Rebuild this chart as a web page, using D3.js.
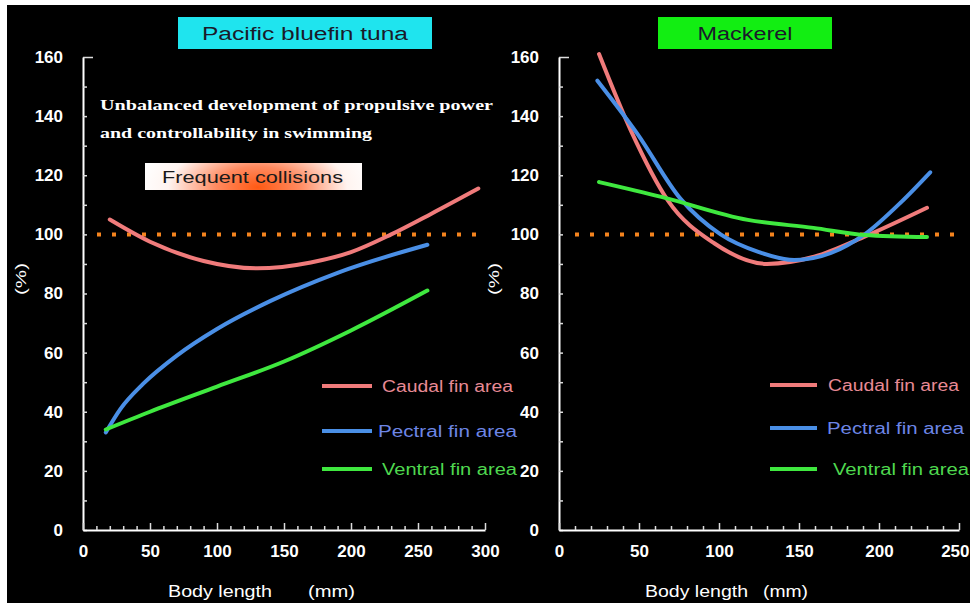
<!DOCTYPE html>
<html><head><meta charset="utf-8">
<script src="https://cdn.jsdelivr.net/npm/d3@7"></script>
<style>body{margin:0;background:#fff}svg{display:block}</style>
</head><body><svg id="c" width="970" height="603"></svg>
<script>
// ---- data ----
const panelTitles = ["Pacific bluefin tuna", "Mackerel"];
const seriesNames = ["Caudal fin area", "Pectral fin area", "Ventral fin area"];
const yTicks = [0, 20, 40, 60, 80, 100, 120, 140, 160];
const tunaXTicks = [0, 50, 100, 150, 200, 250, 300];
const mackXTicks = [0, 50, 100, 150, 200, 250];

const tunaCaudalX = [20, 50, 90, 130, 170, 200, 230, 260, 295];
const tunaCaudalY = [105, 97.5, 91, 88.5, 90.5, 94, 100, 107, 115.5];
const tunaPectralX = [17, 28, 45, 70, 100, 140, 190, 257];
const tunaPectralY = [33, 41, 49.5, 59, 68, 77.5, 87, 96.5];
const tunaVentralX = [17, 50, 100, 150, 200, 257];
const tunaVentralY = [34, 40, 48.5, 57, 67.5, 81];

const mackCaudalX = [25, 45, 68, 97, 130, 160, 190, 230];
const mackCaudalY = [161, 135, 111.5, 97, 90, 92.5, 99, 109];
const mackPectralX = [24, 49, 76, 101, 125, 147, 170, 191, 214, 232];
const mackPectralY = [152, 134, 112, 100, 94, 91.3, 93.7, 100, 111, 121];
const mackVentralX = [25, 64, 118, 159, 191, 230];
const mackVentralY = [117.7, 112.7, 104.9, 102.2, 99.8, 99.1];

const referenceLevel = 100;

// ---- drawing ----
const svg = d3.select("#c");
svg.append("rect").attr("x", 0).attr("y", 0).attr("width", 970).attr("height", 603).attr("fill", "#fff");
svg.append("rect").attr("x", 7).attr("y", 5).attr("width", 963).attr("height", 598).attr("fill", "#000");

const lineColors = ["#f07b7b", "#4a8fe6", "#3fe83f"];
const textColors = ["#e88a95", "#6d86e6", "#4fd84f"];
const fontSans = "'Liberation Sans', Arial, sans-serif";

const y = d3.scaleLinear().domain([0, 160]).range([530, 57]);

const panels = [
  {x0: 83, x1: 485, dom: [0, 300], ticks: tunaXTicks,
   series: [[tunaCaudalX, tunaCaudalY], [tunaPectralX, tunaPectralY], [tunaVentralX, tunaVentralY]],
   title: panelTitles[0], titleBox: [178, 17, 254, 32], titleFill: "#1fe4ee", titleLen: 206,
   dots: [97, 487], legendLine: [322, 372], legendText: [382, 378, 382], legendLen: [131, 139, 135], legendY: [386, 431, 469], ylab: 21,
   xt: [[168, "Body length", 104], [308, "(mm)", 47]]},
  {x0: 559, x1: 959, dom: [0, 250], ticks: mackXTicks,
   series: [[mackCaudalX, mackCaudalY], [mackPectralX, mackPectralY], [mackVentralX, mackVentralY]],
   title: panelTitles[1], titleBox: [658, 17, 174, 32], titleFill: "#12ee12", titleLen: 95,
   dots: [575, 963], legendLine: [770, 817], legendText: [828, 827, 833], legendLen: [131, 137, 136], legendY: [385, 428, 469], ylab: 494,
   xt: [[645, "Body length", 103], [763, "(mm)", 45]]}
];

const defs = svg.append("defs");
const rg = defs.append("radialGradient").attr("id", "fc").attr("cx", "0.52").attr("cy", "0.6").attr("r", "0.55")
  .attr("gradientTransform", "translate(0.5,0.5) scale(1,4) translate(-0.5,-0.5)");
rg.append("stop").attr("offset", "0").attr("stop-color", "#ff5a14");
rg.append("stop").attr("offset", "0.35").attr("stop-color", "#ff8a60");
rg.append("stop").attr("offset", "0.75").attr("stop-color", "#fff4f0");
rg.append("stop").attr("offset", "1").attr("stop-color", "#ffffff");

panels.forEach(p => {
  const x = d3.scaleLinear().domain(p.dom).range([p.x0, p.x1]);
  const g = svg.append("g");

  // y axis
  const yAxis = d3.axisLeft(y).tickValues(d3.range(0, 161, 10)).tickSizeInner(-4).tickSizeOuter(0).tickPadding(20)
    .tickFormat(d => yTicks.includes(d) ? d : "");
  const ya = g.append("g").attr("transform", `translate(${p.x0},0)`).call(yAxis);
  ya.select(".domain").attr("stroke", "#fff").attr("stroke-width", 2);
  ya.selectAll(".tick line").attr("stroke", "#ddd").attr("stroke-width", 1.5);
  ya.selectAll(".tick text").attr("fill", "#fff").attr("font-family", fontSans).attr("font-weight", "bold").attr("font-size", 17);
  ya.selectAll(".tick").filter(d => d === 160).select("line").attr("x2", 10);

  // x axis
  const xAxis = d3.axisBottom(x).tickValues(d3.range(p.dom[0], p.dom[1] + 1, 10)).tickSizeInner(-4).tickSizeOuter(0).tickPadding(15)
    .tickFormat(d => p.ticks.includes(d) ? d : "");
  const xa = g.append("g").attr("transform", `translate(0,530)`).call(xAxis);
  xa.select(".domain").attr("stroke", "#fff").attr("stroke-width", 2);
  xa.selectAll(".tick line").attr("stroke", "#ddd").attr("stroke-width", 1.5);
  xa.selectAll(".tick").filter(d => d % 50 === 0).select("line").attr("y2", -7);
  xa.selectAll(".tick text").attr("fill", "#fff").attr("font-family", fontSans).attr("font-weight", "bold").attr("font-size", 17);
  // keep the last label inside the picture
  xa.selectAll(".tick text").filter(d => x(d) > 945).attr("text-anchor", "end").attr("x", 969 - x(p.dom[1]));

  // axis titles
  p.xt.forEach(([tx, t, len]) => g.append("text").attr("x", tx).attr("y", 597).attr("fill", "#fff")
    .attr("font-family", fontSans).attr("font-size", 16).attr("textLength", len).attr("lengthAdjust", "spacingAndGlyphs").text(t));
  g.append("text").attr("transform", `translate(${p.ylab + 5},279) rotate(-90)`).attr("text-anchor", "middle")
    .attr("fill", "#fff").attr("font-family", fontSans).attr("font-size", 14)
    .attr("textLength", 32).attr("lengthAdjust", "spacingAndGlyphs").text("(%)");

  // title box
  g.append("rect").attr("x", p.titleBox[0]).attr("y", p.titleBox[1]).attr("width", p.titleBox[2]).attr("height", p.titleBox[3]).attr("fill", p.titleFill);
  g.append("text").attr("x", p.titleBox[0] + p.titleBox[2] / 2).attr("y", p.titleBox[1] + 23).attr("text-anchor", "middle")
    .attr("fill", "#1a1a2a").attr("font-family", fontSans).attr("font-size", 18)
    .attr("textLength", p.titleLen).attr("lengthAdjust", "spacingAndGlyphs").text(p.title);

  // reference dotted line
  g.append("line").attr("x1", p.dots[0]).attr("x2", p.dots[1]).attr("y1", y(referenceLevel)).attr("y2", y(referenceLevel))
    .attr("stroke", "#f5841e").attr("stroke-width", 4).attr("stroke-dasharray", "4 11");

  // curves
  const line = d3.line().x(d => x(d[0])).y(d => y(d[1])).curve(d3.curveMonotoneX);
  p.series.forEach(([xs, ys], i) => {
    const pts = xs.map((v, k) => [v, ys[k]]);
    g.append("path").attr("d", line(pts)).attr("fill", "none").attr("stroke", lineColors[i])
      .attr("stroke-width", 4).attr("stroke-linecap", "round");
  });

  // legend
  seriesNames.forEach((n, i) => {
    g.append("line").attr("x1", p.legendLine[0]).attr("x2", p.legendLine[1]).attr("y1", p.legendY[i]).attr("y2", p.legendY[i])
      .attr("stroke", lineColors[i]).attr("stroke-width", 4);
    g.append("text").attr("x", p.legendText[i]).attr("y", p.legendY[i] + 6).attr("fill", textColors[i])
      .attr("font-family", fontSans).attr("font-size", 16)
      .attr("textLength", p.legendLen[i]).attr("lengthAdjust", "spacingAndGlyphs").text(n);
  });
});

// annotations (left panel)
svg.append("text").attr("x", 100).attr("y", 110).attr("fill", "#fff").attr("font-family", "'Liberation Serif', 'DejaVu Serif', serif")
  .attr("font-weight", "bold").attr("font-size", 15).attr("textLength", 393).attr("lengthAdjust", "spacingAndGlyphs")
  .text("Unbalanced development of propulsive power");
svg.append("text").attr("x", 100).attr("y", 138).attr("fill", "#fff").attr("font-family", "'Liberation Serif', 'DejaVu Serif', serif")
  .attr("font-weight", "bold").attr("font-size", 15).attr("textLength", 272).attr("lengthAdjust", "spacingAndGlyphs")
  .text("and controllability in swimming");
svg.append("rect").attr("x", 145).attr("y", 163).attr("width", 217).attr("height", 27).attr("fill", "url(#fc)");
svg.append("text").attr("x", 162).attr("y", 183).attr("fill", "#1a1a1a").attr("font-family", fontSans)
  .attr("font-size", 17).attr("textLength", 181).attr("lengthAdjust", "spacingAndGlyphs").text("Frequent collisions");
</script></body></html>
